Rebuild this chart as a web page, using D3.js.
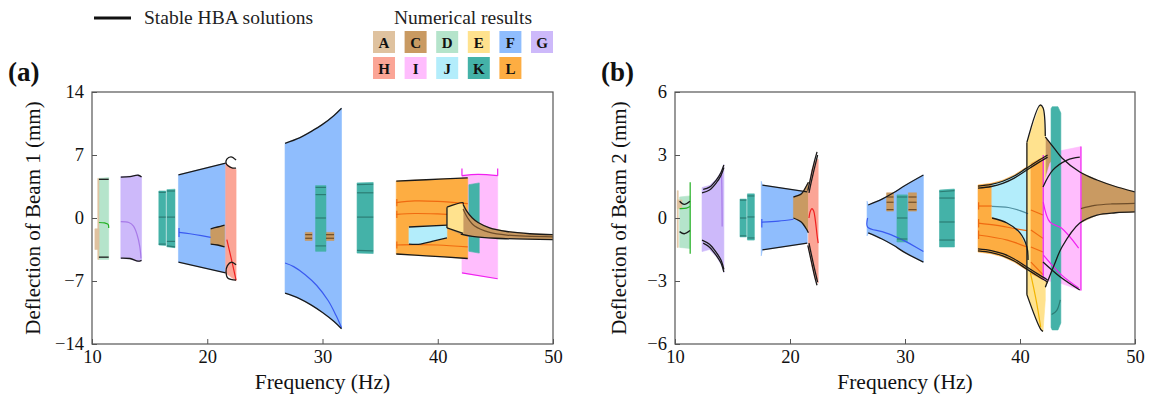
<!DOCTYPE html>
<html>
<head>
<meta charset="utf-8">
<script src="https://cdn.jsdelivr.net/npm/d3@7"></script>
<style>
  body { margin: 0; background: #fff; }
  svg { display: block; font-family: "Liberation Serif", "Times New Roman", serif; }
</style>
</head>
<body>
<svg id="fig" width="1157" height="399"></svg>
<script>
// ---- axes ----
const freqTicks = [10, 20, 30, 40, 50];
const beam1Ticks = [-14, -7, 0, 7, 14];
const beam2Ticks = [-6, -3, 0, 3, 6];

// ---- legend ----
const legendRows = [["A", "C", "D", "E", "F", "G"], ["H", "I", "J", "K", "L"]];

// ---- Beam 1: numerical result bands [case, upper edge, lower edge] (Hz, mm) ----
const beam1Bands = [
  ["D", [[10.6, 4.4], [11.45, 4.5]], [[10.6, -4.6], [11.45, -4.6]]],
  ["A", [[10.5, 4.4], [10.6, 4.4]], [[10.5, -4.6], [10.6, -4.6]]],
  ["A", [[10.25, -1.2], [10.6, -1.2]], [[10.25, -3.5], [10.6, -3.5]]],
  ["G", [[12.5, 4.6], [13.3, 4.65], [14.0, 4.8], [14.3, 4.6]], [[12.5, -4.5], [13.3, -4.55], [14.0, -4.85], [14.3, -4.75]]],
  ["K", [[15.8, 3.0], [16.4, 3.0]], [[15.8, -3.0], [16.4, -3.05]]],
  ["K", [[16.5, 3.15], [17.2, 3.2]], [[16.5, -3.2], [17.2, -3.3]]],
  ["F", [[17.5, 4.8], [21.6, 6.1]], [[17.5, -4.9], [21.6, -6.1]]],
  ["C", [[20.3, -1.2], [20.9, -1.0], [21.5, -0.8]], [[20.3, -2.9], [20.9, -3.0], [21.5, -3.2]]],
  ["H", [[21.6, 6.1], [22.1, 5.6], [22.5, 5.4]], [[21.6, -6.1], [22.0, -6.5], [22.5, -7.0]]],
  ["F", [[26.75, 8.3], [28, 8.9], [29, 9.6], [30, 10.4], [31, 11.4], [31.65, 12.2]],
        [[26.75, -8.35], [28, -8.95], [29, -9.65], [30, -10.5], [31, -11.5], [31.65, -12.3]]],
  ["C", [[28.5, -1.6], [29.1, -1.6]], [[28.5, -2.5], [29.1, -2.5]]],
  ["C", [[30.3, -1.6], [31.0, -1.6]], [[30.3, -2.5], [31.0, -2.5]]],
  ["K", [[29.4, 3.6], [30.3, 3.6]], [[29.4, -3.7], [30.3, -3.7]]],
  ["K", [[33.0, 3.9], [34.4, 3.95]], [[33.0, -3.9], [34.4, -3.95]]],
  ["I", [[42.1, 4.7], [43.5, 4.85], [45.2, 4.7]], [[42.1, -6.1], [45.2, -6.75]]],
  ["L", [[36.4, 4.1], [39, 4.25], [42.6, 4.45]], [[36.4, -4.0], [39, -4.2], [42.6, -4.5]]],
  ["K", [[42.7, 3.7], [43.6, 3.9]], [[42.7, -3.7], [43.6, -3.9]]],
  ["J", [[37.5, -1.0], [40.8, -0.8]], [[37.5, -2.9], [38.5, -2.9], [39.5, -2.6], [40.8, -2.2]]],
  ["C", [[40.8, -0.9], [42.2, 1.5], [42.5, 0.8], [43, 0], [43.5, -0.5], [44.5, -1.1], [46, -1.5], [48, -1.75], [50, -1.85]],
        [[40.8, -1.1], [42, -1.8], [43, -2.05], [45, -2.25], [50, -2.4]]],
  ["E", [[40.8, 1.2], [42.2, 1.7]], [[40.8, -1.1], [42.2, -1.7]]]
];

// response tracks drawn inside the bands [case, points]
const beam1Tracks = [
  ["D", [[10.6, -0.5], [11.1, -0.55], [11.4, -0.7], [11.45, -1.1]]],
  ["G", [[12.5, -0.4], [13.2, -0.5], [13.6, -0.9], [13.9, -1.8], [14.15, -3.2], [14.25, -4.5]]],
  ["K", [[15.8, 2.85], [16.4, 2.85]]], ["K", [[15.8, 0.1], [16.4, 0.1]]], ["K", [[15.8, -2.9], [16.4, -2.9]]],
  ["K", [[16.5, 3.0], [17.2, 3.0]]], ["K", [[16.5, 0.1], [17.2, 0.1]]], ["K", [[16.5, -2.6], [17.2, -2.6]]], ["K", [[16.5, -3.1], [17.2, -3.2]]],
  ["F", [[17.55, -1.1], [17.55, -2.1]]],
  ["F", [[17.55, -1.6], [18.5, -1.75], [19.5, -1.95], [20.3, -2.15]]],
  ["H", [[21.7, -2.4], [22.1, -4.6], [22.5, -6.9]]],
  ["F", [[26.75, -5.0], [27.5, -5.4], [28.5, -6.3], [29.5, -7.5], [30.5, -9.2], [31.2, -10.9], [31.65, -12.2]]],
  ["K", [[29.4, 3.4], [30.3, 3.4]]], ["K", [[29.4, 2.6], [30.3, 2.6]]], ["K", [[29.4, 0], [30.3, 0]]], ["K", [[29.4, -3.1], [30.3, -3.1]]],
  ["K", [[33.0, 3.7], [34.4, 3.75]]], ["K", [[33.0, 2.8], [34.4, 2.8]]], ["K", [[33.0, 0.1], [34.4, 0.1]]], ["K", [[33.0, -3.6], [34.4, -3.65]]],
  ["C", [[28.5, -1.85], [29.1, -1.85]]], ["C", [[28.5, -2.25], [29.1, -2.25]]],
  ["C", [[30.3, -1.85], [31.0, -1.85]]], ["C", [[30.3, -2.25], [31.0, -2.25]]],
  ["L", [[36.4, 1.7], [38, 1.9], [40, 1.85], [42.6, 1.6]]],
  ["L", [[36.4, 0.4], [38, 0.5], [40, 0.45], [40.8, 0.4]]],
  ["L", [[36.4, -3.0], [38, -2.95], [40, -3.0], [42.6, -3.2]]],
  ["L", [[36.45, 2.1], [36.45, 1.3]]], ["L", [[36.45, 0.8], [36.45, 0.0]]], ["L", [[36.45, -2.6], [36.45, -3.4]]],
  ["I", [[42.1, 4.7], [43.5, 4.85], [45.2, 4.7]]],
  ["I", [[42.1, -6.1], [45.2, -6.75]]],
  ["I", [[42.1, 5.5], [42.1, 4.7]]], ["I", [[45.2, 5.5], [45.2, 4.7]]],
  ["C", [[42.2, 1.0], [42.6, 0], [43.2, -0.9], [44.5, -1.6], [46, -1.9], [50, -2.1]]]
];

// stable harmonic-balance branches
const beam1Stable = [
  [[10.6, 4.3], [11.45, 4.3]], [[10.6, -4.35], [11.45, -4.35]],
  [[12.5, 4.55], [13.3, 4.6], [14.0, 4.75], [14.3, 4.55]],
  [[12.5, -4.45], [13.3, -4.5], [14.0, -4.8], [14.3, -4.7]],
  [[17.5, 4.8], [21.6, 6.1]], [[17.5, -4.9], [21.6, -6.1]],
  [[20.3, -1.2], [20.9, -1.0], [21.5, -0.8]], [[20.3, -2.9], [20.9, -3.0], [21.5, -3.2]],
  [[22.5, 6.45], [22.06, 6.8], [21.7, 6.55], [21.63, 6.1], [21.8, 5.8], [22.2, 5.55], [22.5, 5.55]],
  [[22.5, -5.2], [22.1, -4.9], [21.75, -5.3], [21.63, -6.0], [21.8, -6.7], [22.5, -6.9]],
  [[26.75, 8.3], [28, 8.9], [29, 9.6], [30, 10.4], [31, 11.4], [31.65, 12.2]],
  [[26.75, -8.35], [28, -8.95], [29, -9.65], [30, -10.5], [31, -11.5], [31.65, -12.3]],
  [[36.4, 4.1], [39, 4.25], [42.6, 4.45]], [[36.4, -4.0], [39, -4.2], [42.6, -4.5]],
  [[37.5, -1.0], [40.8, -0.8]], [[37.5, -2.9], [38.5, -2.9], [39.5, -2.6], [40.8, -2.2]],
  [[40.8, 1.2], [42.2, 1.7], [42.2, 1.5]], [[40.8, -1.1], [42.2, -1.7]], [[40.8, 1.2], [40.8, -1.1]],
  [[42.2, 1.5], [42.5, 0.8], [43, 0], [43.5, -0.5], [44.5, -1.1], [46, -1.5], [48, -1.75], [50, -1.85]],
  [[42, -1.8], [43, -2.05], [45, -2.25], [50, -2.4]]
];

// ---- Beam 2 ----
const beam2Bands = [
  ["D", [[10.4, 1.0], [11.3, 1.05]], [[10.4, -1.4], [11.3, -1.45]]],
  ["A", [[10.2, 1.3], [10.28, 1.3]], [[10.2, -1.4], [10.28, -1.4]]],
  ["A", [[10.2, 0.86], [10.6, 0.86]], [[10.2, 0.45], [10.6, 0.45]]],
  ["G", [[12.35, 1.45], [13, 1.55], [13.6, 1.85], [14.0, 2.2], [14.25, 2.55]], [[12.35, -1.6], [13, -1.5], [13.6, -1.85], [14.0, -2.2], [14.25, -2.6]]],
  ["K", [[15.65, 0.9], [16.2, 0.9]], [[15.65, -0.9], [16.2, -0.9]]],
  ["K", [[16.3, 1.15], [16.9, 1.15]], [[16.3, -1.05], [16.9, -1.05]]],
  ["F", [[17.5, 1.75], [17.6, 1.57], [21.5, 1.24]], [[17.5, -1.8], [17.6, -1.52], [21.5, -1.2]]],
  ["C", [[20.3, 1.0], [21.0, 1.15], [21.4, 1.5], [21.6, 1.7]], [[20.3, 0.0], [21.0, -0.2], [21.4, -0.5], [21.6, -0.7]]],
  ["H", [[21.6, 1.3], [21.9, 2.3], [22.2, 2.7], [22.45, 2.8]], [[21.6, -1.3], [21.9, -2.3], [22.2, -2.9], [22.45, -3.1]]],
  ["F", [[26.7, 0.8], [26.8, 0.62], [28, 0.9], [29, 1.2], [30, 1.55], [31.6, 2.05]], [[26.7, -0.85], [26.8, -0.71], [28, -1.0], [29, -1.3], [30, -1.65], [31.6, -2.1]]],
  ["C", [[28.4, 1.2], [29.0, 1.2]], [[28.4, 0.33], [29.0, 0.33]]],
  ["C", [[30.3, 1.2], [31.0, 1.2]], [[30.3, 0.33], [31.0, 0.33]]],
  ["K", [[29.3, 1.1], [30.2, 1.1]], [[29.3, -1.14], [30.2, -1.14]]],
  ["K", [[33.0, 1.33], [34.3, 1.38]], [[33.0, -1.38], [34.3, -1.38]]],
  ["L", [[36.35, 1.57], [37.5, 1.65], [38.5, 1.8], [39.5, 2.05], [40.5, 2.4], [41.5, 2.75], [42.3, 3.0]],
        [[36.35, -1.62], [37.5, -1.7], [38.5, -1.85], [39.5, -2.1], [40.5, -2.45], [41.5, -2.8], [42.3, -3.05]]],
  ["J", [[37.55, 1.6], [38.5, 1.75], [39.5, 2.0], [40.5, 2.35], [40.7, 2.42]],
        [[37.55, 0.05], [38.87, -0.24], [40.0, -0.71], [40.6, -1.38], [40.7, -2.0]]],
  ["C", [[42.2, 3.86], [43.0, 3.3], [43.65, 2.86], [45.2, 2.19], [46.7, 1.81], [48.3, 1.5], [50, 1.24]],
        [[42.2, -3.3], [43.0, -2.2], [43.65, -1.38], [45.2, -0.24], [46.7, 0.14], [48.3, 0.25], [50, 0.29]]],
  ["E", [[40.6, 3.6], [41.75, 5.38], [42.0, 5.25], [42.2, 3.9]], [[40.6, -3.65], [41.8, -5.3], [42.0, -5.4], [42.2, -3.9]]],
  ["L", [[40.95, 2.6], [41.5, 2.75], [42.0, 2.9]], [[40.95, -2.65], [41.5, -2.8], [42.0, -2.95]]],
  ["I", [[42.0, 1.5], [42.6, 2.6], [43.5, 3.2], [45.3, 3.4]], [[42.0, -2.95], [43.5, -3.1], [45.3, -3.45]]],
  ["K", [[42.7, 5.2], [42.8, 5.3], [43.3, 5.3], [43.55, 5.0]], [[42.7, -5.2], [42.8, -5.33], [43.3, -5.33], [43.55, -5.0]]]
];

const beam2Tracks = [
  ["D", [[10.4, 0.45], [11.0, 0.47], [11.3, 0.55]]],
  ["D", [[11.32, 1.7], [11.32, -1.7]]],
  ["G", [[14.05, 2.2], [14.08, 1.2], [14.1, -0.4]]],
  ["K", [[15.65, 0.85], [16.2, 0.85]]], ["K", [[15.65, 0.0], [16.2, 0.0]]], ["K", [[15.65, -0.85], [16.2, -0.85]]],
  ["K", [[16.3, 1.05], [16.9, 1.05]]], ["K", [[16.3, 0.05], [16.9, 0.05]]], ["K", [[16.3, -0.95], [16.9, -0.95]]],
  ["F", [[17.55, -0.05], [17.55, -0.45]]],
  ["F", [[17.55, -0.2], [19, -0.15], [20.3, -0.06]]],
  ["H", [[21.65, 0.0], [21.75, 0.3], [21.9, 0.45], [22.05, 0.35], [22.2, -0.1], [22.35, -0.8], [22.45, -1.2]]],
  ["F", [[26.75, 0.0], [26.75, -0.43], [28, -0.65], [29, -0.85], [30, -1.1], [31, -1.4], [31.6, -1.6]]],
  ["C", [[28.4, 1.0], [29.0, 1.0]]], ["C", [[28.4, 0.75], [29.0, 0.75]]], ["C", [[28.4, 0.4], [29.0, 0.4]]],
  ["C", [[30.3, 1.0], [31.0, 1.0]]], ["C", [[30.3, 0.75], [31.0, 0.75]]], ["C", [[30.3, 0.4], [31.0, 0.4]]],
  ["K", [[29.3, 1.0], [30.2, 1.0]]], ["K", [[29.3, 0.0], [30.2, 0.0]]], ["K", [[29.3, -1.0], [30.2, -1.0]]],
  ["K", [[33.0, 1.25], [34.3, 1.3]]], ["K", [[33.0, 0.95], [34.3, 0.95]]], ["K", [[33.0, -0.19], [34.3, -0.19]]], ["K", [[33.0, -1.05], [34.3, -1.05]]],
  ["L", [[36.35, 0.57], [37.55, 0.57]]],
  ["L", [[36.35, -0.24], [38, -0.35], [39.5, -0.5], [40.6, -0.6]]],
  ["L", [[36.35, -0.81], [38.9, -1.05], [40.6, -1.38]]],
  ["L", [[36.4, 0.75], [36.4, 0.4]]], ["L", [[36.4, -0.05], [36.4, -0.45]]], ["L", [[36.4, -0.6], [36.4, -1.0]]],
  ["J", [[37.55, 0.55], [39, 0.5], [40, 0.35], [40.7, 0.2]]],
  ["L", [[40.95, 0.38], [42.0, 0.14]]],
  ["L", [[40.95, -0.57], [42.0, -0.97]]],
  ["L", [[40.95, -1.38], [42.0, -1.62]]],
  ["L", [[40.95, -2.1], [42.0, -2.7]]],
  ["E", [[40.9, -2.6], [41.4, -3.9], [41.8, -5.2]]],
  ["I", [[42.02, 0.76], [42.6, -0.19], [43.6, -0.48], [45.1, -1.43]]],
  ["I", [[42.02, -1.76], [43.6, -2.71], [45.1, -3.33]]],
  ["I", [[42.02, 3.0], [42.02, -2.9]]], ["I", [[45.3, 3.4], [45.3, -3.45]]],
  ["K", [[42.75, -4.6], [43.2, -4.4], [43.5, -3.9]]],
  ["C", [[45.3, 0.45], [46.5, 0.6], [48, 0.67], [50, 0.7]]]
];

const beam2Stable = [
  [[10.4, 0.8], [10.8, 0.65], [11.3, 0.8]], [[10.4, -0.65], [10.8, -0.75], [11.3, -0.6]],
  [[12.35, 1.2], [13, 1.33], [13.6, 1.68], [14.0, 2.03], [14.25, 2.4]],
  [[12.45, 1.36], [13, 1.47], [13.6, 1.82], [14.0, 2.17], [14.25, 2.52]],
  [[12.35, -1.05], [13, -1.25], [13.6, -1.65], [14.0, -2.0], [14.25, -2.45]],
  [[12.45, -1.2], [13, -1.39], [13.6, -1.79], [14.0, -2.14], [14.25, -2.57]],
  [[17.6, 1.57], [21.5, 1.24]], [[17.6, -1.52], [21.5, -1.2]],
  [[20.3, 1.0], [21.0, 1.15], [21.4, 1.5], [21.6, 1.7]], [[20.3, 0.0], [21.0, -0.2], [21.4, -0.5], [21.6, -0.7]],
  [[21.55, 1.3], [21.75, 1.8], [21.95, 2.3], [22.15, 2.75], [22.35, 3.15]],
  [[21.65, 1.2], [21.85, 1.72], [22.05, 2.2], [22.25, 2.65], [22.4, 3.0]],
  [[21.55, -1.3], [21.75, -1.8], [21.95, -2.3], [22.15, -2.8], [22.35, -3.2]],
  [[21.65, -1.2], [21.85, -1.72], [22.05, -2.22], [22.25, -2.7], [22.4, -3.05]],
  [[26.8, 0.62], [28, 0.9], [29, 1.2], [30, 1.55], [31.6, 2.05]],
  [[26.8, -0.71], [28, -1.0], [29, -1.3], [30, -1.65], [31.6, -2.1]],
  [[36.35, 1.52], [37.5, 1.6], [38.5, 1.75], [39.5, 2.0], [40.5, 2.35], [41.5, 2.7], [42.4, 3.0]],
  [[36.35, 1.42], [37.5, 1.5], [38.5, 1.65], [39.5, 1.9], [40.5, 2.25], [41.5, 2.6], [42.4, 2.9]],
  [[36.35, -1.57], [37.5, -1.65], [38.5, -1.8], [39.5, -2.05], [40.5, -2.4], [41.5, -2.75], [42.4, -3.05]],
  [[36.35, -1.47], [37.5, -1.55], [38.5, -1.7], [39.5, -1.95], [40.5, -2.3], [41.5, -2.65], [42.4, -2.95]],
  [[37.57, 0.0], [38.87, -0.24], [40.0, -0.71], [40.6, -1.38], [40.7, -2.0]],
  [[40.6, 3.6], [41.75, 5.38], [42.0, 5.25], [42.2, 3.9]], [[40.6, -3.65], [41.8, -5.3], [42.0, -5.4]],
  [[40.6, 3.6], [40.6, -3.65]],
  [[42.2, 3.86], [43.0, 3.3], [43.65, 2.86], [45.2, 2.19], [46.7, 1.81], [48.3, 1.5], [50, 1.24]],
  [[42.2, -3.3], [43.0, -2.2], [43.65, -1.38], [45.2, -0.24], [46.7, 0.14], [48.3, 0.25], [50, 0.29]],
  [[42.0, 1.48], [42.87, 2.29], [44.1, 2.76], [45.2, 2.9]],
  [[42.0, -2.1], [43.48, -2.8], [45.2, -3.43]]
];

// ---- colours per case ----
const caseFill = { A: "#dfc29f", C: "#c99a62", D: "#b5e4cb", E: "#ffe28e", F: "#8fbdfd", G: "#cdb9fa",
                   H: "#fba596", I: "#ffbdfd", J: "#b3edfb", K: "#44b2a8", L: "#fdad42" };
const caseLine = { A: "#b08a5a", C: "#6e4d2a", D: "#22b022", E: "#f2b400", F: "#3a5af0", G: "#a77ae8",
                   H: "#f02020", I: "#f020f0", J: "#4f8fa0", K: "#2c7c74", L: "#f06a10" };

const svg = d3.select("#fig");
const plotTop = 92, plotBottom = 344;

const panels = [
  { id: "a", tag: "(a)", title: "Deflection of Beam 1 (mm)", ticks: beam1Ticks, left: 92, right: 553,
    bands: beam1Bands, tracks: beam1Tracks, stable: beam1Stable, tagX: 8, titleX: 33 },
  { id: "b", tag: "(b)", title: "Deflection of Beam 2 (mm)", ticks: beam2Ticks, left: 675, right: 1135,
    bands: beam2Bands, tracks: beam2Tracks, stable: beam2Stable, tagX: 601, titleX: 619 }
];

panels.forEach(p => {
  const x = d3.scaleLinear().domain([freqTicks[0], freqTicks[freqTicks.length - 1]]).range([p.left, p.right]);
  const y = d3.scaleLinear().domain(d3.extent(p.ticks)).range([plotBottom, plotTop]);
  const line = d3.line().x(d => x(d[0])).y(d => y(d[1]));
  const smooth = d3.line().x(d => x(d[0])).y(d => y(d[1])).curve(d3.curveCatmullRom.alpha(0.5));

  svg.append("clipPath").attr("id", "clip-" + p.id)
    .append("rect").attr("x", p.left).attr("y", plotTop).attr("width", p.right - p.left).attr("height", plotBottom - plotTop);

  const g = svg.append("g").attr("clip-path", `url(#clip-${p.id})`);

  g.selectAll("path.band").data(p.bands).join("path")
    .attr("class", "band")
    .attr("d", d => line(d[1].concat(d[2].slice().reverse())) + "Z")
    .attr("fill", d => caseFill[d[0]])
    .attr("stroke", d => caseFill[d[0]])
    .attr("stroke-width", 0.6);

  g.selectAll("path.track").data(p.tracks).join("path")
    .attr("class", "track")
    .attr("d", d => smooth(d[1]))
    .attr("fill", "none")
    .attr("stroke", d => caseLine[d[0]])
    .attr("stroke-width", 1.2);

  g.selectAll("path.stable").data(p.stable).join("path")
    .attr("class", "stable")
    .attr("d", d => smooth(d))
    .attr("fill", "none")
    .attr("stroke", "#1a1a1a")
    .attr("stroke-width", 1.3);

  // axes with inward ticks
  const ya = svg.append("g").attr("transform", `translate(${p.left},0)`)
    .call(d3.axisLeft(y).tickValues(p.ticks).tickSizeInner(-5).tickSizeOuter(0).tickPadding(8));
  const xa = svg.append("g").attr("transform", `translate(0,${plotBottom})`)
    .call(d3.axisBottom(x).tickValues(freqTicks).tickSizeInner(-5).tickSizeOuter(0).tickPadding(6));
  [ya, xa].forEach(a => {
    a.select(".domain").remove();
    a.selectAll(".tick line").attr("stroke", "#555");
    a.selectAll(".tick text").attr("font-size", 18.5).attr("fill", "#111")
      .attr("font-family", "Liberation Serif, serif");
  });

  svg.append("rect").attr("x", p.left).attr("y", plotTop)
    .attr("width", p.right - p.left).attr("height", plotBottom - plotTop)
    .attr("fill", "none").attr("stroke", "#555").attr("stroke-width", 1.2);

  svg.append("text").attr("x", (p.left + p.right) / 2).attr("y", 389)
    .attr("text-anchor", "middle").attr("font-size", 21.5).attr("fill", "#111").text("Frequency (Hz)");

  svg.append("text")
    .attr("transform", `translate(${p.titleX},${(plotTop + plotBottom) / 2}) rotate(-90)`)
    .attr("text-anchor", "middle").attr("dy", "0.35em").attr("font-size", 21).attr("fill", "#111")
    .text(p.title);

  svg.append("text").attr("x", p.tagX).attr("y", 81)
    .attr("font-size", 27).attr("font-weight", "bold").attr("fill", "#111").text(p.tag);
});

// ---- legend ----
const lg = svg.append("g");
lg.append("line").attr("x1", 94).attr("x2", 131).attr("y1", 18).attr("y2", 18)
  .attr("stroke", "#111").attr("stroke-width", 3.2);
lg.append("text").attr("x", 144).attr("y", 24).attr("font-size", 19.5).attr("fill", "#222").text("Stable HBA solutions");
lg.append("text").attr("x", 463).attr("y", 24).attr("text-anchor", "middle").attr("font-size", 19.5)
  .attr("fill", "#222").text("Numerical results");

legendRows.forEach((row, r) => {
  row.forEach((c, i) => {
    const bx = 373 + i * 31.6, by = 31 + r * 26;
    lg.append("rect").attr("x", bx).attr("y", by).attr("width", 22).attr("height", 22)
      .attr("fill", caseFill[c]);
    lg.append("text").attr("x", bx + 11).attr("y", by + 16.5).attr("text-anchor", "middle")
      .attr("font-size", 15).attr("font-weight", "bold").attr("fill", "#111").text(c);
  });
});
</script>
</body>
</html>
